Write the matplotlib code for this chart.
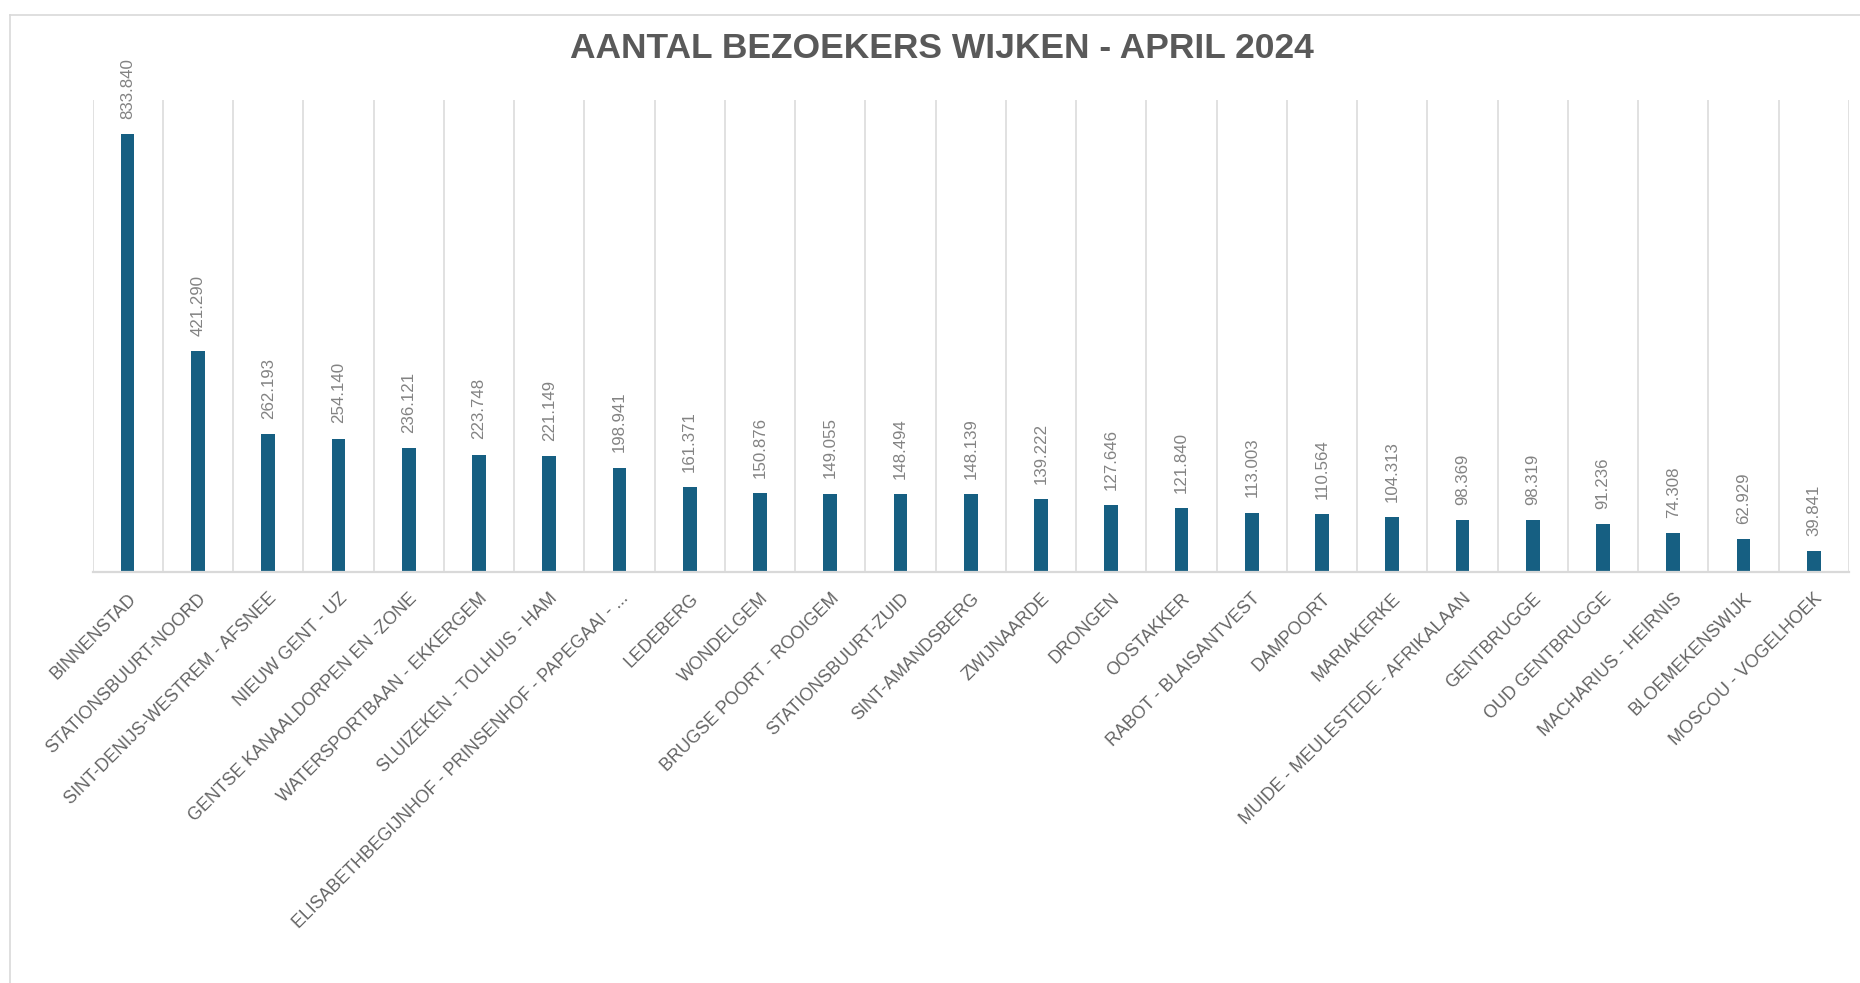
import matplotlib
matplotlib.use("Agg")
import matplotlib.pyplot as plt
from matplotlib.lines import Line2D

# ---- data ----
wijken = [
    "BINNENSTAD",
    "STATIONSBUURT-NOORD",
    "SINT-DENIJS-WESTREM - AFSNEE",
    "NIEUW GENT - UZ",
    "GENTSE KANAALDORPEN EN -ZONE",
    "WATERSPORTBAAN - EKKERGEM",
    "SLUIZEKEN - TOLHUIS - HAM",
    "ELISABETHBEGIJNHOF - PRINSENHOF - PAPEGAAI - ...",
    "LEDEBERG",
    "WONDELGEM",
    "BRUGSE POORT - ROOIGEM",
    "STATIONSBUURT-ZUID",
    "SINT-AMANDSBERG",
    "ZWIJNAARDE",
    "DRONGEN",
    "OOSTAKKER",
    "RABOT - BLAISANTVEST",
    "DAMPOORT",
    "MARIAKERKE",
    "MUIDE - MEULESTEDE - AFRIKALAAN",
    "GENTBRUGGE",
    "OUD GENTBRUGGE",
    "MACHARIUS - HEIRNIS",
    "BLOEMEKENSWIJK",
    "MOSCOU - VOGELHOEK",
]
bezoekers = [
    833840, 421290, 262193, 254140, 236121, 223748, 221149, 198941,
    161371, 150876, 149055, 148494, 148139, 139222, 127646, 121840,
    113003, 110564, 104313, 98369, 98319, 91236, 74308, 62929, 39841,
]
titel = "AANTAL BEZOEKERS WIJKEN - APRIL 2024"

# ---- style ----
W, H = 1860, 983
BAR = "#165f82"
GRID = "#d9d9d9"
LABEL = "#646464"
VALUE = "#838383"
FONT = ["Liberation Sans", "DejaVu Sans"]

fig = plt.figure(figsize=(W / 100, H / 100), dpi=100)
fig.patch.set_facecolor("white")

# outer frame (top + left only visible)
fig.add_artist(Line2D([10 / W, 1.0], [1 - 14.5 / H, 1 - 14.5 / H],
                      transform=fig.transFigure, color=GRID, lw=1.2))
fig.add_artist(Line2D([10 / W, 10 / W], [0.0, 1 - 14.5 / H],
                      transform=fig.transFigure, color=GRID, lw=1.2))

left, right = 92.5 / W, 1849 / W
bottom, top = 1 - 572 / H, 1 - 99.5 / H
ax = fig.add_axes([left, bottom, right - left, top - bottom])

n = len(wijken)
x = list(range(n))
ax.bar(x, bezoekers, width=0.195, color=BAR, zorder=3)
ax.set_xlim(-0.5, n - 0.5)
ax.set_ylim(0, 900000)

# vertical separators between categories
for b in range(n + 1):
    ax.axvline(b - 0.5, color=GRID, lw=1.1, zorder=1)

for s in ["top", "right", "left"]:
    ax.spines[s].set_visible(False)
ax.spines["bottom"].set_color(GRID)
ax.spines["bottom"].set_linewidth(1.6)
ax.spines["bottom"].set_zorder(4)
ax.set_yticks([])
ax.set_xticks(x)
ax.set_xticklabels(wijken, rotation=45, ha="right", va="top",
                   rotation_mode="anchor", fontsize=12.8, color=LABEL,
                   family=FONT)
ax.tick_params(axis="x", length=0, pad=13)

for xi, v in zip(x, bezoekers):
    ax.annotate(f"{v:,}".replace(",", "."), (xi, v), xytext=(0, 11),
                textcoords="offset points", rotation=90, ha="center",
                va="bottom", fontsize=12.2, color=VALUE, family=FONT,
                annotation_clip=False)

fig.text(942 / W, 1 - 48.8 / H, titel, ha="center", va="center",
         fontsize=25.5, fontweight="bold", color="#595959", family=FONT)

fig.savefig("out.png", dpi=100, facecolor="white")
